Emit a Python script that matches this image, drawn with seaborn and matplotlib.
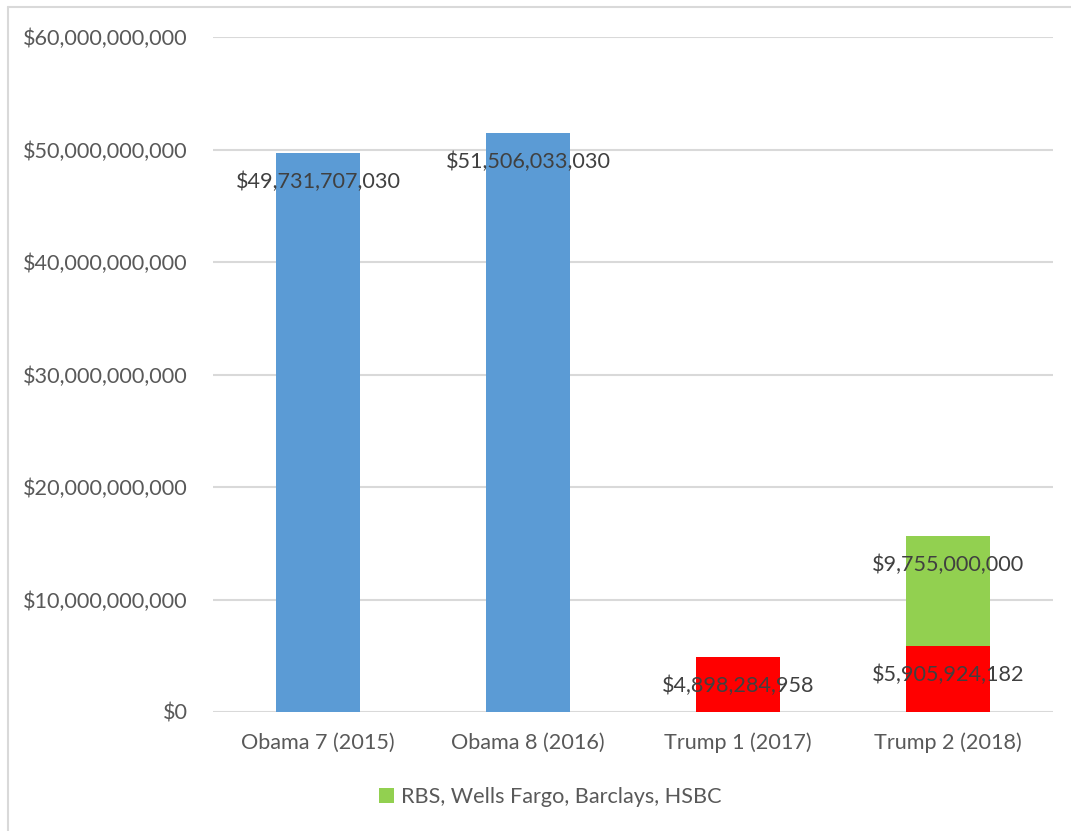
import matplotlib
matplotlib.use("Agg")
import matplotlib.pyplot as plt
import matplotlib.ticker as mticker
from matplotlib.lines import Line2D
from matplotlib.patches import Patch
import seaborn as sns
import pandas as pd

categories = ["Obama 7 (2015)", "Obama 8 (2016)", "Trump 1 (2017)", "Trump 2 (2018)"]
main_values = [49731707030, 51506033030, 4898284958, 5905924182]
bank_values = [0, 0, 0, 9755000000]
bank_label = "RBS, Wells Fargo, Barclays, HSBC"
main_colors = ["#5B9BD5", "#5B9BD5", "#FF0000", "#FF0000"]
bank_color = "#92D050"
y_ticks = [0, 10e9, 20e9, 30e9, 40e9, 50e9, 60e9]

sns.set_theme(style="white")
plt.rcParams["font.family"] = ["Lato", "DejaVu Sans"]

fig = plt.figure(figsize=(10.71, 8.31), dpi=100)
ax = fig.add_axes([213 / 1071, 1 - 712 / 831, (1053 - 213) / 1071, (712 - 37) / 831])

df = pd.DataFrame({"cat": categories, "main": main_values, "bank": bank_values})

sns.barplot(data=df, x="cat", y="main", hue="cat", palette=main_colors, legend=False,
            width=0.4, linewidth=0, saturation=1, ax=ax, zorder=3)
sns.barplot(data=df, x="cat", y="bank", color=bank_color, bottom=df["main"].values,
            width=0.4, linewidth=0, saturation=1, ax=ax, zorder=3)

ax.set_ylim(0, 60e9)
ax.set_xlim(-0.5, 3.5)
ax.set_yticks(y_ticks)
ax.yaxis.set_major_formatter(mticker.FuncFormatter(lambda v, p: "${:,.0f}".format(v)))
ax.grid(axis="y", color="#D9D9D9", linewidth=1.5, zorder=0)
ax.grid(axis="x", visible=False)
for s in ax.spines.values():
    s.set_visible(False)
ax.tick_params(axis="both", length=0, labelsize=15.6, labelcolor="#595959")
ax.tick_params(axis="y", pad=18)
ax.tick_params(axis="x", pad=15)
ax.set_xlabel("")
ax.set_ylabel("")

label_kw = dict(ha="center", va="center", fontsize=15.6, color="#404040",
                textcoords="offset points", xytext=(0, -21), zorder=5)
for i, v in enumerate(main_values):
    ax.annotate("${:,.0f}".format(v), xy=(i, v), **label_kw)
for i, (b, m) in enumerate(zip(bank_values, main_values)):
    if b > 0:
        ax.annotate("${:,.0f}".format(b), xy=(i, m + b), **label_kw)

handle = Patch(facecolor=bank_color, edgecolor="none")
fig.legend([handle], [bank_label], loc="center", bbox_to_anchor=(550 / 1071, 1 - 797 / 831),
           frameon=False, fontsize=15.6, labelcolor="#595959", handlelength=0.7, handleheight=0.7,
           handletextpad=0.3)

# chart area frame (top and left edges)
fig.add_artist(Line2D([8 / 1071, 8 / 1071], [0, 1 - 7 / 831], transform=fig.transFigure,
                      color="#D9D9D9", linewidth=1.5))
fig.add_artist(Line2D([8 / 1071, 1], [1 - 7 / 831, 1 - 7 / 831], transform=fig.transFigure,
                      color="#D9D9D9", linewidth=1.5))

fig.savefig("out.png", dpi=100)
